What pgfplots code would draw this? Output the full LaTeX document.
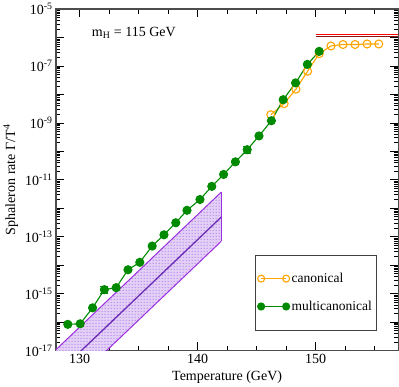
\documentclass[border=0pt]{standalone}
\usepackage{fontspec}
\setmainfont{Liberation Serif}
\usepackage{pgfplots}
\pgfplotsset{compat=1.18}
\usetikzlibrary{patterns}
\definecolor{mgreen}{HTML}{008A00}
\definecolor{canon}{HTML}{FFA500}
\definecolor{bandline}{HTML}{9B30E0}
\definecolor{bandmid}{HTML}{6A2BB5}
\definecolor{bandfill}{HTML}{E2D0F6}
\definecolor{bandpat}{HTML}{A050E8}
\definecolor{darkred}{HTML}{8B1010}

\begin{document}
\begin{tikzpicture}
\begin{axis}[scale only axis,width=342pt,height=341pt,
  ymode=log,xmin=128,xmax=157,ymin=1e-17,ymax=1e-5,
  xtick={130,140,150},minor xtick={132.5,135,137.5,142.5,145,147.5,152.5,155},
  ytick={1e-17,1e-16,1e-15,1e-14,1e-13,1e-12,1e-11,1e-10,1e-9,1e-8,1e-7,1e-6,1e-5},
  yticklabels={10\textsuperscript{-17},,10\textsuperscript{-15},,10\textsuperscript{-13},,10\textsuperscript{-11},,10\textsuperscript{-9},,10\textsuperscript{-7},,10\textsuperscript{-5}},
  minor ytick={2e-17,3e-17,4e-17,5e-17,6e-17,7e-17,8e-17,9e-17,
    2e-16,3e-16,4e-16,5e-16,6e-16,7e-16,8e-16,9e-16,
    2e-15,3e-15,4e-15,5e-15,6e-15,7e-15,8e-15,9e-15,
    2e-14,3e-14,4e-14,5e-14,6e-14,7e-14,8e-14,9e-14,
    2e-13,3e-13,4e-13,5e-13,6e-13,7e-13,8e-13,9e-13,
    2e-12,3e-12,4e-12,5e-12,6e-12,7e-12,8e-12,9e-12,
    2e-11,3e-11,4e-11,5e-11,6e-11,7e-11,8e-11,9e-11,
    2e-10,3e-10,4e-10,5e-10,6e-10,7e-10,8e-10,9e-10,
    2e-9,3e-9,4e-9,5e-9,6e-9,7e-9,8e-9,9e-9,
    2e-8,3e-8,4e-8,5e-8,6e-8,7e-8,8e-8,9e-8,
    2e-7,3e-7,4e-7,5e-7,6e-7,7e-7,8e-7,9e-7,
    2e-6,3e-6,4e-6,5e-6,6e-6,7e-6,8e-6,9e-6},
  /pgf/number format/assume math mode=true,
  tick label style={font=\fontsize{14}{16}\selectfont},
  label style={font=\fontsize{14}{16}\selectfont},
  xlabel={Temperature (GeV)},
  ylabel={Sphaleron rate Γ/T\textsuperscript{4}},
  axis line style={draw=black!70,line width=1.5pt},
  every tick/.style={black,line width=0.8pt},
  major tick length=8pt,minor tick length=4.5pt,
  legend style={at={(rel axis cs:0.936,0.059)},anchor=south east,draw=black!75,line width=0.8pt,
    font=\fontsize{13.5}{15}\selectfont,inner xsep=2pt,inner ysep=16pt,row sep=13pt},
  legend cell align=left,
  legend image code/.code={\draw[mark repeat=2,mark phase=1,mark size=3.5pt] plot coordinates {(0pt,0pt) (12.5pt,0pt) (25pt,0pt)};},
]
% band from the theory estimate
\addplot[forget plot,draw=none,fill=bandfill] coordinates {(128,1.07e-17) (142,3.7e-12) (142,6.9e-14) (128,2.0e-19)} -- cycle;
\addplot[forget plot,draw=none,pattern=dots,pattern color=bandpat] coordinates {(128,1.07e-17) (142,3.7e-12) (142,6.9e-14) (128,2.0e-19)} -- cycle;
\addplot[forget plot,bandline,line width=1pt] coordinates {(128,1.07e-17) (142,3.7e-12)};
\addplot[forget plot,bandline,line width=1pt] coordinates {(128,2.0e-19) (142,6.9e-14)};
\addplot[forget plot,bandmid,line width=1.3pt] coordinates {(128,1.4e-18) (142,4.9e-13)};
\addplot[forget plot,bandline,line width=0.8pt] coordinates {(142,3.7e-12) (142,6.9e-14)};
% high temperature limit
\addplot[forget plot,darkred,line width=1pt] coordinates {(150,1.08e-6) (157,1.08e-6)};
\addplot[forget plot,red,line width=1pt] coordinates {(150,1.26e-6) (157,1.26e-6)};
% canonical
\addplot[canon,line width=1.1pt,mark=o,mark size=4pt,mark options={line width=1.1pt}] coordinates {
(146.2,1.95e-9) (147.33,4.8e-9) (148.33,1.55e-8) (149.32,6.6e-8) (150.31,2.75e-7)
(151.3,5.1e-7) (152.32,5.75e-7) (153.34,5.75e-7) (154.36,6.0e-7) (155.35,6.0e-7)};
% multicanonical
\addplot[mgreen,line width=1.1pt,mark=*,mark size=4pt,mark options={fill=mgreen}] coordinates {
(129.0,8.3e-17) (130.05,8.7e-17) (131.1,3.16e-16) (132.1,1.38e-15) (133.1,1.62e-15)
(134.1,6.9e-15) (135.1,1.26e-14) (136.15,4.7e-14) (137.15,1.17e-13) (138.15,3.1e-13)
(139.1,8.5e-13) (140.2,2.04e-12) (141.2,5.9e-12) (142.2,1.55e-11) (143.2,4.3e-11)
(144.2,1.15e-10) (145.2,3.5e-10) (146.25,1.2e-9) (147.25,6.6e-9) (148.3,2.57e-8)
(149.3,1.15e-7) (150.3,3.3e-7)};
\addplot[forget plot,draw=none,mark=none,error bars/.cd,y dir=both,y explicit,
  error bar style={mgreen,line width=1pt},error mark options={mgreen,line width=1pt,mark size=4pt,rotate=90}] coordinates {
(132.1,1.38e-15) +- (0,0.35e-15) (144.2,1.15e-10) +- (0,0.32e-10)};
\legend{canonical,multicanonical}
\node[font=\fontsize{14}{16}\selectfont] at (axis cs:134.6,1.45e-6) {m\textsubscript{H} = 115 GeV};
\end{axis}
\end{tikzpicture}
\end{document}
